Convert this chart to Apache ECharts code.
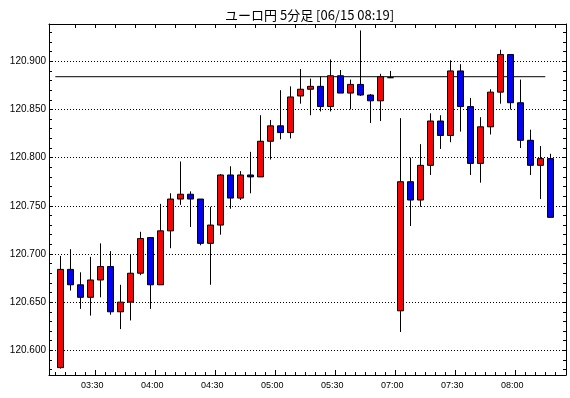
<!DOCTYPE html>
<html>
<head>
<meta charset="utf-8">
<title>ユーロ円 5分足</title>
<script src="https://cdn.jsdelivr.net/npm/echarts@6/dist/echarts.min.js"></script>
<style>
    html, body { margin: 0; padding: 0; background: #fff; }
    #chart { width: 570px; height: 398px; }
</style>
</head>
<body>
<div id="chart"></div>
<script>
// candle start times (market pause between 05:55 and 07:00)
const times = [
    '03:10', '03:15', '03:20', '03:25', '03:30', '03:35', '03:40', '03:45', '03:50', '03:55',
    '04:00', '04:05', '04:10', '04:15', '04:20', '04:25', '04:30', '04:35', '04:40', '04:45',
    '04:50', '04:55', '05:00', '05:05', '05:10', '05:15', '05:20', '05:25', '05:30', '05:35',
    '05:40', '05:45', '05:50', '05:55', '07:00', '07:05', '07:10', '07:15', '07:20', '07:25',
    '07:30', '07:35', '07:40', '07:45', '07:50', '07:55', '08:00', '08:05', '08:10', '08:15'
]
const openValues = [
    120.582, 120.684, 120.668, 120.655, 120.673, 120.687, 120.640, 120.650, 120.680, 120.717,
    120.668, 120.724, 120.757, 120.762, 120.757, 120.711, 120.730, 120.782, 120.758, 120.782,
    120.780, 120.817, 120.833, 120.826, 120.864, 120.871, 120.874, 120.853, 120.885, 120.867,
    120.876, 120.865, 120.859, 120.883, 120.641, 120.775, 120.756, 120.792, 120.838, 120.823,
    120.890, 120.853, 120.794, 120.832, 120.868, 120.907, 120.857, 120.818, 120.792, 120.799
]
const closeValues = [
    120.684, 120.668, 120.655, 120.673, 120.687, 120.640, 120.650, 120.680, 120.716, 120.668,
    120.724, 120.757, 120.762, 120.757, 120.711, 120.730, 120.782, 120.758, 120.782, 120.780,
    120.817, 120.833, 120.826, 120.863, 120.871, 120.874, 120.853, 120.885, 120.867, 120.876,
    120.865, 120.859, 120.884, 120.883, 120.775, 120.756, 120.792, 120.838, 120.823, 120.890,
    120.853, 120.794, 120.832, 120.868, 120.907, 120.857, 120.818, 120.792, 120.799, 120.738
]
const lowValues = [
    120.581, 120.662, 120.643, 120.636, 120.655, 120.637, 120.622, 120.631, 120.678, 120.643,
    120.668, 120.706, 120.751, 120.728, 120.709, 120.668, 120.720, 120.747, 120.756, 120.763,
    120.780, 120.798, 120.819, 120.820, 120.856, 120.844, 120.848, 120.848, 120.867, 120.850,
    120.864, 120.836, 120.838, 120.883, 120.619, 120.729, 120.749, 120.782, 120.809, 120.816,
    120.827, 120.782, 120.774, 120.824, 120.856, 120.850, 120.810, 120.782, 120.757, 120.738
]
const highValues = [
    120.698, 120.705, 120.681, 120.697, 120.711, 120.703, 120.668, 120.699, 120.723, 120.717,
    120.752, 120.763, 120.796, 120.765, 120.757, 120.749, 120.783, 120.791, 120.786, 120.806,
    120.844, 120.839, 120.870, 120.874, 120.892, 120.882, 120.884, 120.902, 120.891, 120.881,
    120.932, 120.866, 120.887, 120.890, 120.841, 120.800, 120.814, 120.846, 120.844, 120.901,
    120.897, 120.862, 120.842, 120.871, 120.912, 120.907, 120.881, 120.829, 120.812, 120.804
]
const tickLabels = ['03:30', '04:00', '04:30', '05:00', '05:30', '07:00', '07:30', '08:00']
const priceLabels = [120.600, 120.650, 120.700, 120.750, 120.800, 120.850, 120.900]
const refLevel = 120.884

const xMin = -0.63
const xMax = 51.07
const yMin = 120.57436
const yMax = 120.93872

const slotEdges = Array.from({ length: times.length + 1 }, (_, i) => i)
const topEdges = slotEdges.filter(i => i > 0 && i % 2 === 0)
const labelSlots = tickLabels.map(t => times.indexOf(t))
const minorPrices = []
for (let p = 12058; p <= 12093; p++) {
    minorPrices.push(p / 100)
}

const candles = times.map((t, i) => [i + 0.5, openValues[i], closeValues[i], lowValues[i], highValues[i]])

const black = '#000'
const noLine = { show: false }

const myChart = echarts.init(document.getElementById('chart'), null, { renderer: 'canvas' })

const option = {
    animation: false,
    backgroundColor: '#fff',
    title: {
        text: 'ユーロ円 5分足 [06/15 08:19]',
        left: 220,
        top: 4,
        textStyle: {
            fontFamily: '"Noto Sans CJK JP", sans-serif',
            fontSize: 13,
            fontWeight: 'normal',
            color: black
        }
    },
    grid: {
        left: 49,
        top: 24,
        width: 517,
        height: 351,
        show: true,
        backgroundColor: '#fff',
        borderWidth: 0
    },
    xAxis: [
        {
            type: 'value',
            min: xMin,
            max: xMax,
            position: 'bottom',
            axisLine: { show: true, onZero: false, lineStyle: { color: black, width: 1 } },
            axisTick: { show: true, inside: true, length: 3, customValues: slotEdges, lineStyle: { color: black } },
            axisLabel: {
                customValues: labelSlots,
                formatter: (value) => times[Math.round(value)],
                margin: 6,
                padding: [0, 6, 0, 0],
                fontFamily: '"Liberation Sans", sans-serif',
                fontSize: 9,
                color: black
            },
            splitLine: noLine
        },
        {
            type: 'value',
            min: xMin,
            max: xMax,
            position: 'bottom',
            axisLine: { show: false, onZero: false },
            axisTick: { show: true, inside: true, length: 5, customValues: labelSlots, lineStyle: { color: black } },
            axisLabel: { show: false },
            splitLine: noLine
        },
        {
            type: 'value',
            min: xMin,
            max: xMax,
            position: 'top',
            axisLine: { show: true, onZero: false, lineStyle: { color: black, width: 1 } },
            axisTick: { show: true, inside: true, length: 4, customValues: topEdges, lineStyle: { color: black } },
            axisLabel: { show: false },
            splitLine: noLine
        }
    ],
    yAxis: [
        {
            type: 'value',
            min: yMin,
            max: yMax,
            position: 'left',
            axisLine: noLine,
            axisTick: { show: false, customValues: priceLabels },
            axisLabel: {
                customValues: priceLabels,
                formatter: (value) => value.toFixed(3),
                margin: 3,
                padding: [3, 0, 0, 0],
                fontFamily: '"Liberation Sans", sans-serif',
                fontSize: 10,
                color: black
            },
            splitLine: { show: true, lineStyle: { color: black, width: 1, type: [1, 2] } }
        },
        {
            type: 'value',
            min: yMin,
            max: yMax,
            position: 'left',
            axisLine: { show: true, onZero: false, lineStyle: { color: black, width: 1 } },
            axisTick: { show: true, inside: true, length: 3, customValues: minorPrices, lineStyle: { color: black } },
            axisLabel: { show: false },
            splitLine: noLine
        },
        {
            type: 'value',
            min: yMin,
            max: yMax,
            position: 'right',
            axisLine: { show: true, onZero: false, lineStyle: { color: black, width: 1 } },
            axisTick: { show: true, inside: true, length: 3, customValues: minorPrices, lineStyle: { color: black } },
            axisLabel: { show: false },
            splitLine: noLine
        }
    ],
    series: [
        {
            name: 'ユーロ円',
            type: 'candlestick',
            xAxisIndex: 0,
            yAxisIndex: 0,
            data: candles,
            barWidth: 6,
            silent: true,
            itemStyle: {
                color: '#ff0000',
                color0: '#0000ff',
                borderColor: black,
                borderColor0: black,
                borderColorDoji: black,
                borderWidth: 1
            }
        },
        {
            name: 'ref',
            type: 'line',
            xAxisIndex: 0,
            yAxisIndex: 0,
            data: [[0, refLevel], [times.length - 1, refLevel]],
            symbol: 'none',
            silent: true,
            lineStyle: { color: black, width: 1 },
            z: 1
        }
    ]
}
myChart.setOption(option)
</script>
</body>
</html>
